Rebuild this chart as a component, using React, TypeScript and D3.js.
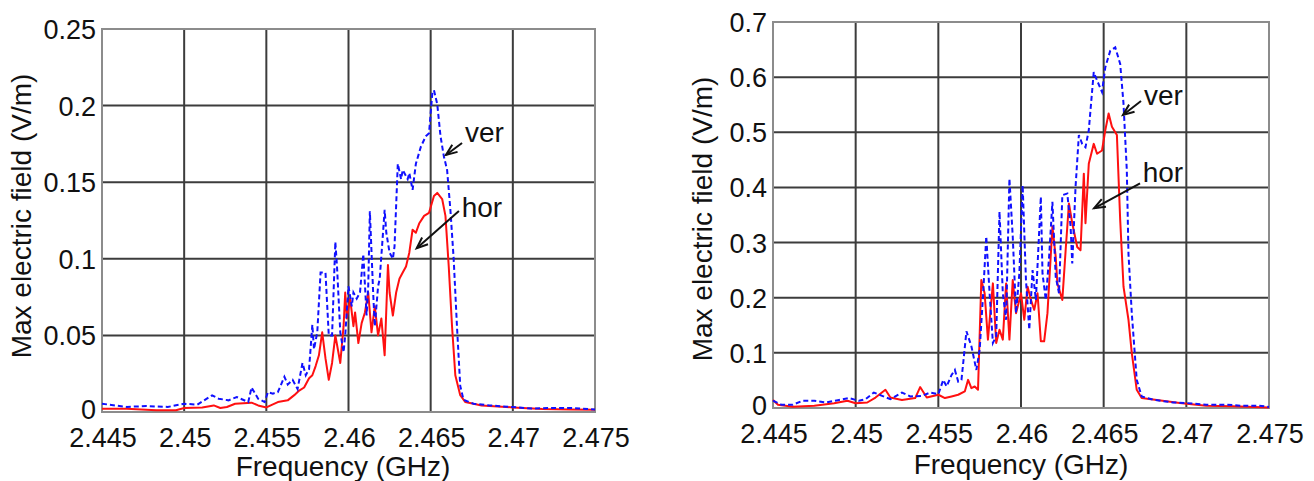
import React, { useEffect, useRef } from "react";
import * as d3 from "d3";

type Pt = [number, number];

// frequency axis shared by both panels (GHz)
const freqTicks = [2.445, 2.45, 2.455, 2.46, 2.465, 2.47, 2.475];
const leftYTicks = [0, 0.05, 0.1, 0.15, 0.2, 0.25];
const rightYTicks = [0, 0.1, 0.2, 0.3, 0.4, 0.5, 0.6, 0.7];

// left panel, vertical polarisation (blue dashed)
const leftVer: Pt[] = [
  [2.445, 0.0054], [2.4465, 0.0033], [2.4477, 0.0039], [2.449, 0.0033], [2.45, 0.0054],
  [2.4508, 0.0048], [2.4517, 0.0109], [2.4521, 0.0087], [2.4527, 0.0076], [2.4532, 0.0098],
  [2.4539, 0.0065], [2.4541, 0.016], [2.4545, 0.0087], [2.4549, 0.0065], [2.4551, 0.013],
  [2.4554, 0.012], [2.4557, 0.013], [2.4561, 0.023], [2.4563, 0.018], [2.4566, 0.021],
  [2.4569, 0.015], [2.4572, 0.032], [2.4574, 0.024], [2.4576, 0.028], [2.4578, 0.057],
  [2.4579, 0.041], [2.4581, 0.052], [2.4583, 0.091], [2.4586, 0.091], [2.4588, 0.05],
  [2.459, 0.05], [2.4592, 0.111], [2.4593, 0.095], [2.4595, 0.052], [2.4597, 0.039],
  [2.4598, 0.05], [2.46, 0.082], [2.4602, 0.069], [2.4603, 0.078], [2.4605, 0.074],
  [2.4607, 0.078], [2.4609, 0.103], [2.4611, 0.063], [2.4612, 0.082], [2.4613, 0.131],
  [2.4615, 0.078], [2.4616, 0.056], [2.4618, 0.082], [2.4619, 0.087], [2.4622, 0.132],
  [2.4623, 0.117], [2.4625, 0.104], [2.4627, 0.1], [2.4628, 0.108], [2.463, 0.162],
  [2.4632, 0.152], [2.4633, 0.158], [2.4636, 0.152], [2.4637, 0.156], [2.4639, 0.145],
  [2.4641, 0.162], [2.4644, 0.173], [2.4647, 0.18], [2.4649, 0.182], [2.4651, 0.208],
  [2.4652, 0.21], [2.4654, 0.201], [2.4656, 0.18], [2.4658, 0.167], [2.466, 0.158],
  [2.4662, 0.132], [2.4664, 0.1], [2.4666, 0.056], [2.4668, 0.017], [2.467, 0.008],
  [2.4676, 0.0054], [2.4686, 0.0043], [2.47, 0.0032], [2.4712, 0.0022], [2.4721, 0.0026],
  [2.4736, 0.0026], [2.475, 0.0017],
];

// left panel, horizontal polarisation (red solid)
const leftHor: Pt[] = [
  [2.445, 0.0022], [2.4465, 0.0022], [2.4483, 0.0011], [2.4495, 0.0011], [2.45, 0.0026],
  [2.4511, 0.003], [2.4518, 0.0043], [2.4522, 0.0026], [2.4526, 0.0033], [2.4531, 0.0054],
  [2.4541, 0.0061], [2.4545, 0.0043], [2.455, 0.003], [2.4557, 0.0065], [2.4563, 0.0076],
  [2.4567, 0.011], [2.457, 0.014], [2.4573, 0.016], [2.4576, 0.022], [2.4578, 0.024],
  [2.458, 0.03], [2.4582, 0.037], [2.4584, 0.052], [2.4586, 0.035], [2.4588, 0.021],
  [2.459, 0.032], [2.4592, 0.05], [2.4595, 0.032], [2.4597, 0.056], [2.4598, 0.078],
  [2.4599, 0.061], [2.4601, 0.074], [2.4603, 0.056], [2.4604, 0.065], [2.4606, 0.045],
  [2.4608, 0.058], [2.461, 0.065], [2.4612, 0.078], [2.4614, 0.052], [2.4616, 0.069],
  [2.4618, 0.05], [2.462, 0.061], [2.4622, 0.037], [2.4624, 0.096], [2.4625, 0.078],
  [2.4627, 0.063], [2.4629, 0.078], [2.4631, 0.087], [2.4633, 0.091], [2.4635, 0.095],
  [2.4637, 0.104], [2.4639, 0.119], [2.4641, 0.117], [2.4643, 0.123], [2.4646, 0.128],
  [2.4649, 0.13], [2.4652, 0.141], [2.4654, 0.143], [2.4657, 0.139], [2.4659, 0.128],
  [2.4661, 0.095], [2.4663, 0.056], [2.4665, 0.024], [2.4668, 0.011], [2.4671, 0.0065],
  [2.4681, 0.0043], [2.47, 0.003], [2.4718, 0.002], [2.4735, 0.0017], [2.475, 0.0015],
];

// right panel, vertical polarisation (blue dashed)
const rightVer: Pt[] = [
  [2.445, 0.0133], [2.4455, 0.006], [2.4462, 0.006], [2.4468, 0.0133], [2.4475, 0.013],
  [2.4482, 0.01], [2.449, 0.0145], [2.4496, 0.018], [2.4502, 0.013], [2.4506, 0.016],
  [2.4511, 0.028], [2.4516, 0.022], [2.4521, 0.016], [2.4528, 0.028], [2.4533, 0.021],
  [2.454, 0.022], [2.4545, 0.028], [2.455, 0.025], [2.4553, 0.051], [2.4555, 0.039],
  [2.4558, 0.06], [2.456, 0.069], [2.4562, 0.048], [2.4564, 0.051], [2.4567, 0.139],
  [2.457, 0.112], [2.4573, 0.069], [2.4575, 0.106], [2.4577, 0.202], [2.4579, 0.311],
  [2.4581, 0.208], [2.4583, 0.118], [2.4585, 0.13], [2.4587, 0.356], [2.4589, 0.208],
  [2.4591, 0.16], [2.4593, 0.416], [2.4595, 0.311], [2.4597, 0.172], [2.4599, 0.244],
  [2.4601, 0.404], [2.4603, 0.232], [2.4605, 0.142], [2.4607, 0.25], [2.4609, 0.196],
  [2.4612, 0.383], [2.4613, 0.244], [2.4615, 0.196], [2.4617, 0.274], [2.4619, 0.374],
  [2.4621, 0.238], [2.4623, 0.208], [2.4625, 0.386], [2.4628, 0.389], [2.463, 0.329],
  [2.4631, 0.262], [2.4633, 0.401], [2.4635, 0.495], [2.4637, 0.479], [2.4639, 0.473],
  [2.4641, 0.504], [2.4644, 0.609], [2.4646, 0.594], [2.4649, 0.573], [2.4651, 0.618],
  [2.4654, 0.648], [2.4657, 0.654], [2.466, 0.624], [2.4662, 0.552], [2.4664, 0.431],
  [2.4665, 0.28], [2.4667, 0.172], [2.467, 0.051], [2.4673, 0.021], [2.468, 0.015],
  [2.4692, 0.01], [2.47, 0.009], [2.4712, 0.006], [2.4724, 0.006], [2.4734, 0.004],
  [2.4744, 0.004], [2.475, 0.002],
];

// right panel, horizontal polarisation (red solid)
const rightHor: Pt[] = [
  [2.445, 0.0145], [2.4453, 0.006], [2.4462, 0.0024], [2.4475, 0.004], [2.4487, 0.0085],
  [2.4495, 0.013], [2.45, 0.0085], [2.4507, 0.01], [2.4512, 0.019], [2.4518, 0.033],
  [2.4521, 0.019], [2.4528, 0.0145], [2.4536, 0.018], [2.4539, 0.038], [2.4543, 0.019],
  [2.455, 0.024], [2.4554, 0.018], [2.4558, 0.021], [2.4562, 0.024], [2.4566, 0.03],
  [2.4568, 0.051], [2.457, 0.036], [2.4572, 0.039], [2.4574, 0.033], [2.4576, 0.232],
  [2.4578, 0.208], [2.458, 0.124], [2.4583, 0.226], [2.4585, 0.118], [2.4587, 0.142],
  [2.4589, 0.124], [2.4591, 0.226], [2.4593, 0.124], [2.4595, 0.232], [2.4597, 0.172],
  [2.46, 0.208], [2.4602, 0.16], [2.4604, 0.22], [2.4606, 0.196], [2.4608, 0.178],
  [2.461, 0.208], [2.4612, 0.121], [2.4614, 0.121], [2.4616, 0.172], [2.4619, 0.329],
  [2.4621, 0.274], [2.4622, 0.226], [2.4625, 0.196], [2.4627, 0.286], [2.4629, 0.371],
  [2.4631, 0.335], [2.4634, 0.292], [2.4636, 0.286], [2.4638, 0.425], [2.4639, 0.335],
  [2.4641, 0.443], [2.4644, 0.479], [2.4646, 0.461], [2.4649, 0.467], [2.4651, 0.504],
  [2.4653, 0.534], [2.4655, 0.51], [2.4658, 0.495], [2.466, 0.341], [2.4662, 0.22],
  [2.4665, 0.16], [2.4667, 0.1], [2.467, 0.033], [2.4673, 0.018], [2.4681, 0.015],
  [2.4696, 0.009], [2.4712, 0.004], [2.4728, 0.003], [2.475, 0.001],
];

const BLUE = "#1010ff";
const RED = "#ff1010";
const FONT = "'Liberation Sans', Arial, sans-serif";

interface Note {
  label: string;
  text: Pt; // where the label starts (data units)
  tail: Pt;
  tip: Pt;
}

interface Panel {
  left: number;
  top: number;
  width: number;
  height: number;
  yMax: number;
  yTicks: number[];
  ver: Pt[];
  hor: Pt[];
  notes: Note[];
  yTitle: [number, number];
  xTitle: [number, number];
}

const panels: Panel[] = [
  {
    left: 102, top: 29, width: 493, height: 383,
    yMax: 0.25, yTicks: leftYTicks, ver: leftVer, hor: leftHor,
    notes: [
      { label: "ver", text: [2.46709, 0.1764], tail: [2.46691, 0.1756], tip: [2.46593, 0.1678] },
      { label: "hor", text: [2.46689, 0.1275], tail: [2.46672, 0.1312], tip: [2.46415, 0.1069] },
    ],
    yTitle: [31, 216],
    xTitle: [343, 476],
  },
  {
    left: 773, top: 22, width: 496, height: 386,
    yMax: 0.7, yTicks: rightYTicks, ver: rightVer, hor: rightHor,
    notes: [
      { label: "ver", text: [2.46744, 0.5495], tail: [2.46726, 0.5567], tip: [2.46617, 0.5314] },
      { label: "hor", text: [2.46736, 0.4104], tail: [2.4672, 0.4075], tip: [2.46442, 0.3622] },
    ],
    yTitle: [712, 219],
    xTitle: [1021, 474],
  },
];

function drawPanel(svg: d3.Selection<SVGSVGElement, unknown, null, undefined>, p: Panel) {
  const x = d3.scaleLinear().domain([2.445, 2.475]).range([p.left, p.left + p.width]);
  const y = d3.scaleLinear().domain([0, p.yMax]).range([p.top + p.height, p.top]);
  const g = svg.append("g");

  // grid
  g.selectAll("line.vg")
    .data(freqTicks.slice(1, -1))
    .enter()
    .append("line")
    .attr("x1", (d) => x(d))
    .attr("x2", (d) => x(d))
    .attr("y1", p.top)
    .attr("y2", p.top + p.height)
    .attr("stroke", "#3c3c3c")
    .attr("stroke-width", 2);

  g.selectAll("line.hg")
    .data(p.yTicks.slice(1, -1))
    .enter()
    .append("line")
    .attr("x1", p.left)
    .attr("x2", p.left + p.width)
    .attr("y1", (d) => y(d))
    .attr("y2", (d) => y(d))
    .attr("stroke", "#3c3c3c")
    .attr("stroke-width", 2);

  g.append("rect")
    .attr("x", p.left)
    .attr("y", p.top)
    .attr("width", p.width)
    .attr("height", p.height)
    .attr("fill", "none")
    .attr("stroke", "#8c8c8c")
    .attr("stroke-width", 2);

  // tick labels
  g.selectAll("text.xt")
    .data(freqTicks)
    .enter()
    .append("text")
    .attr("x", (d) => x(d) + 1)
    .attr("y", p.top + p.height + 35)
    .attr("text-anchor", "middle")
    .attr("font-family", FONT)
    .attr("font-size", 27)
    .attr("fill", "#111")
    .text((d) => String(d));

  g.selectAll("text.yt")
    .data(p.yTicks)
    .enter()
    .append("text")
    .attr("x", p.left - 6)
    .attr("y", (d) => y(d) + (d === 0 ? 7 : 10))
    .attr("text-anchor", "end")
    .attr("font-family", FONT)
    .attr("font-size", 27)
    .attr("fill", "#111")
    .text((d) => String(d));

  const line = d3
    .line<Pt>()
    .x((d) => x(d[0]))
    .y((d) => y(d[1]));

  g.append("path")
    .datum(p.hor)
    .attr("fill", "none")
    .attr("stroke", RED)
    .attr("stroke-width", 2)
    .attr("stroke-linejoin", "round")
    .attr("d", line);

  g.append("path")
    .datum(p.ver)
    .attr("fill", "none")
    .attr("stroke", BLUE)
    .attr("stroke-width", 2)
    .attr("stroke-dasharray", "5,3")
    .attr("d", line);

  // annotations
  p.notes.forEach((n) => {
    const tx = x(n.tail[0]);
    const ty = y(n.tail[1]);
    const hx = x(n.tip[0]);
    const hy = y(n.tip[1]);
    const ang = Math.atan2(hy - ty, hx - tx);
    const barb = 12;
    const spread = 0.38;
    g.append("line")
      .attr("x1", tx)
      .attr("y1", ty)
      .attr("x2", hx)
      .attr("y2", hy)
      .attr("stroke", "#111")
      .attr("stroke-width", 2);
    g.append("path")
      .attr(
        "d",
        `M${hx - barb * Math.cos(ang - spread)},${hy - barb * Math.sin(ang - spread)}` +
          `L${hx},${hy}` +
          `L${hx - barb * Math.cos(ang + spread)},${hy - barb * Math.sin(ang + spread)}`
      )
      .attr("fill", "none")
      .attr("stroke", "#111")
      .attr("stroke-width", 2);
    g.append("text")
      .attr("x", x(n.text[0]))
      .attr("y", y(n.text[1]))
      .attr("font-family", FONT)
      .attr("font-size", 28)
      .attr("fill", "#111")
      .text(n.label);
  });

  // axis titles
  g.append("text")
    .attr("transform", `translate(${p.yTitle[0]},${p.yTitle[1]}) rotate(-90)`)
    .attr("text-anchor", "middle")
    .attr("font-family", FONT)
    .attr("font-size", 28)
    .attr("fill", "#111")
    .text("Max electric field (V/m)");

  g.append("text")
    .attr("x", p.xTitle[0])
    .attr("y", p.xTitle[1])
    .attr("text-anchor", "middle")
    .attr("font-family", FONT)
    .attr("font-size", 28)
    .attr("fill", "#111")
    .text("Frequency (GHz)");
}

export default function App() {
  const svgRef = useRef<SVGSVGElement>(null);

  useEffect(() => {
    const svg = d3.select(svgRef.current as SVGSVGElement);
    svg.selectAll("*").remove();
    svg.append("rect").attr("width", 1314).attr("height", 481).attr("fill", "#fff");
    panels.forEach((p) => drawPanel(svg, p));
  }, []);

  return (
    <svg
      ref={svgRef}
      width={1314}
      height={481}
      style={{ position: "absolute", left: 0, top: 0, display: "block" }}
    ></svg>
  );
}
